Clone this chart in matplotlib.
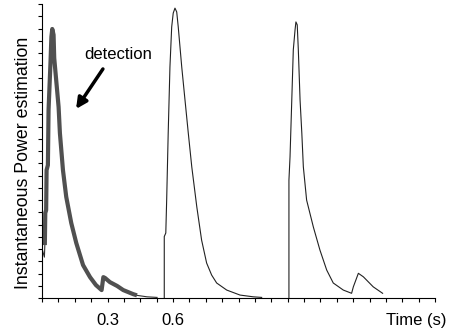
import numpy as np
import matplotlib
matplotlib.use("Agg")
import matplotlib.pyplot as plt

plt.rcParams["font.family"] = ["Liberation Sans", "DejaVu Sans"]

# first event (detected) - time (s) and normalised power
t1 = [0.002, 0.011, 0.013, 0.015, 0.019, 0.021, 0.027, 0.030, 0.039, 0.043, 0.047,
      0.053, 0.056, 0.065, 0.076, 0.082, 0.096, 0.111, 0.134, 0.157, 0.188, 0.220,
      0.247, 0.273, 0.281, 0.289, 0.311, 0.344, 0.372, 0.418, 0.435, 0.481, 0.527]
p1 = [0.163, 0.139, 0.180, 0.289, 0.299, 0.435, 0.452, 0.639, 0.803, 0.888, 0.915,
      0.895, 0.816, 0.741, 0.650, 0.561, 0.435, 0.344, 0.255, 0.187, 0.112, 0.071,
      0.044, 0.027, 0.071, 0.068, 0.054, 0.041, 0.027, 0.013, 0.009, 0.004, 0.002]
# indices of the highlighted (detection) part of the first event
det_start, det_end = 2, 30

# second event
t2 = [0.560, 0.560, 0.567, 0.571, 0.578, 0.586, 0.594, 0.601, 0.609, 0.617, 0.624,
      0.640, 0.655, 0.670, 0.686, 0.709, 0.731, 0.754, 0.777, 0.800, 0.846, 0.907,
      0.968, 1.006]
p2 = [0.001, 0.209, 0.221, 0.333, 0.561, 0.786, 0.922, 0.969, 0.986, 0.973, 0.922,
      0.786, 0.673, 0.561, 0.446, 0.310, 0.197, 0.119, 0.078, 0.051, 0.027, 0.010,
      0.004, 0.002]

# third event
t3 = [1.131, 1.131, 1.136, 1.144, 1.151, 1.159, 1.163, 1.169, 1.174, 1.182, 1.190,
      1.197, 1.212, 1.243, 1.273, 1.304, 1.334, 1.380, 1.418, 1.426, 1.449, 1.472,
      1.517, 1.560]
p3 = [0.001, 0.401, 0.480, 0.673, 0.844, 0.912, 0.939, 0.929, 0.844, 0.673, 0.561,
      0.446, 0.333, 0.241, 0.163, 0.095, 0.051, 0.027, 0.016, 0.038, 0.084, 0.072,
      0.038, 0.016]

xtick_labels = {0.3: "0.3", 0.6: "0.6"}

fig = plt.figure(figsize=(4.57, 3.33), dpi=100)
ax = fig.add_axes([42 / 457, 35 / 333, 393 / 457, 294 / 333])

ax.plot(t1, p1, color="#303030", lw=0.8)
ax.plot(t1[det_start:det_end + 1], p1[det_start:det_end + 1], color="#505050",
        lw=3.0, solid_capstyle="butt", solid_joinstyle="round")
ax.plot(t2, p2, color="#222222", lw=0.8)
ax.plot(t3, p3, color="#222222", lw=0.8)

ax.set_xlim(0, 1.8)
ax.set_ylim(0, 1.0)
for s in ["top", "right"]:
    ax.spines[s].set_visible(False)
for s in ["left", "bottom"]:
    ax.spines[s].set_linewidth(0.8)

xt = np.arange(25) * 0.075
ax.set_xticks(xt)
ax.set_xticklabels([xtick_labels.get(round(v, 3), "") for v in xt], fontsize=12)
ax.set_yticks(np.linspace(0, 1, 25))
ax.set_yticklabels([])
ax.tick_params(axis="both", direction="out", length=3, width=0.8)
ax.tick_params(axis="x", pad=8)

fig.text(447 / 457, 1 - 321 / 333, "Time (s)", ha="right", va="center", fontsize=12)
fig.text(24 / 457, 1 - 163 / 333, "Instantaneous Power estimation", rotation=90,
         ha="center", va="center", fontsize=12.8)

ax.annotate("", xy=(0.156, 0.643), xytext=(0.279, 0.779),
            arrowprops=dict(arrowstyle="-|>", lw=2.5, color="black", mutation_scale=16,
                            shrinkA=0, shrinkB=0))
ax.text(0.348, 0.827, "detection", ha="center", va="center", fontsize=12)

fig.savefig("out.png", dpi=100)
